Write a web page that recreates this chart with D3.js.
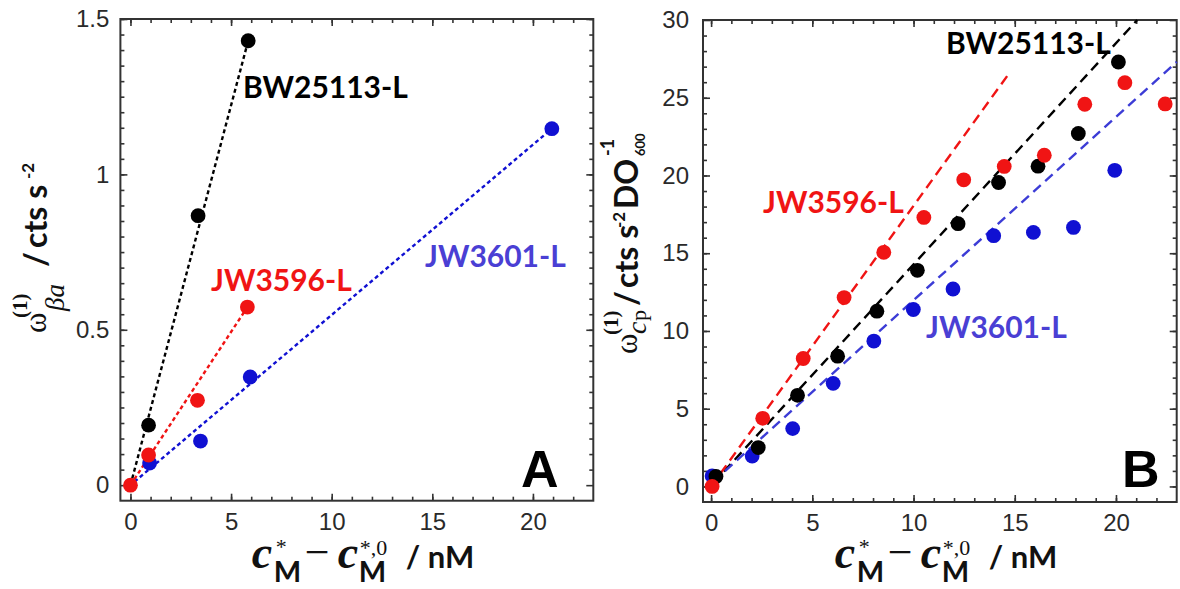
<!DOCTYPE html>
<html><head><meta charset="utf-8">
<script src="https://cdn.jsdelivr.net/npm/d3@7"></script>
<style>body{margin:0;background:#fff}svg{display:block}</style>
</head><body>
<svg id="chart" width="1180" height="589"></svg>
<script>
// ---------- Panel A data ----------
const seriesNames = ["BW25113-L", "JW3596-L", "JW3601-L"];
const aBlackX = [0.90, 3.36, 5.85];
const aBlackY = [0.193, 0.867, 1.43];
const aRedX = [0, 0.90, 3.33, 5.81];
const aRedY = [0, 0.097, 0.273, 0.573];
const aBlueX = [0.95, 3.48, 5.95, 20.94];
const aBlueY = [0.071, 0.142, 0.348, 1.147];
const aBlackFitX = [0, 5.85],  aBlackFitY = [0, 1.43];
const aRedFitX = [0, 5.81],    aRedFitY = [0, 0.573];
const aBlueFitX = [0.2, 20.94], aBlueFitY = [0.011, 1.147];
const aXTicks = [0, 5, 10, 15, 20];
const aYTicks = [0, 0.5, 1, 1.5];
const aYTickLabels = ["0", "0.5", "1", "1.5"];

// ---------- Panel B data ----------
const bBlackX = [0.24, 2.33, 4.27, 6.25, 8.19, 10.19, 12.2, 14.2, 16.15, 18.14, 20.12];
const bBlackY = [0.64, 2.5, 5.86, 8.38, 11.27, 13.9, 16.9, 19.55, 20.6, 22.7, 27.3];
const bRedX = [0.05, 2.55, 4.55, 6.57, 8.53, 10.51, 12.48, 14.48, 16.46, 18.46, 20.44, 22.43];
const bRedY = [0, 4.38, 8.23, 12.15, 15.06, 17.3, 19.72, 20.58, 21.3, 24.58, 25.97, 24.6];
const bBlueX = [0.05, 2.03, 4.03, 6.03, 8.04, 9.99, 11.95, 13.96, 15.92, 17.9, 19.94];
const bBlueY = [0.68, 1.96, 3.72, 6.63, 9.35, 11.38, 12.7, 16.13, 16.34, 16.66, 20.33];
const bBlackFitX = [0.1, 21.05], bBlackFitY = [0.2, 30];
const bRedFitX = [0, 14.66],     bRedFitY = [0, 26.46];
const bBlueFitX = [0.1, 23],     bBlueFitY = [0.3, 27.3];
const bXTicks = [0, 5, 10, 15, 20];
const bYTicks = [0, 5, 10, 15, 20, 25, 30];
const bYTickLabels = ["0", "5", "10", "15", "20", "25", "30"];

const zip = (xs, ys) => xs.map((v, i) => [v, ys[i]]);
const svg = d3.select("#chart");
const C = {black: "#000000", red: "#f01414", blue: "#1010d2", blueLine: "#3c3cd6", blueText: "#4a3fd4"};

function drawPanel(o) {
  const g = svg.append("g");
  const x = d3.scaleLinear().domain(o.xDomain).range(o.xRange);
  const y = d3.scaleLinear().domain(o.yDomain).range(o.yRange);
  const [xl, xr] = o.xRange, [yb, yt] = o.yRange;

  const styleAxis = sel => {
    sel.select(".domain").remove();
    sel.selectAll(".tick line").attr("stroke", "#333").attr("stroke-width", 1.6);
    sel.selectAll("text").attr("font-family", "'Liberation Sans', Arial, sans-serif")
       .attr("font-size", 24).attr("fill", "#2a2a2a");
  };
  const minorSpecs = [
    [d3.axisBottom(x).tickValues(o.xMinor), `translate(0,${yb})`],
    [d3.axisTop(x).tickValues(o.xMinor), `translate(0,${yt})`],
    [d3.axisLeft(y).tickValues(o.yMinor), `translate(${xl},0)`],
    [d3.axisRight(y).tickValues(o.yMinor), `translate(${xr},0)`]
  ];
  minorSpecs.forEach(([ax, tr]) => {
    g.append("g").attr("transform", tr).call(ax.tickFormat("").tickSizeInner(-4).tickSizeOuter(0)).call(styleAxis);
  });
  g.append("g").attr("transform", `translate(0,${yb})`)
    .call(d3.axisBottom(x).tickValues(o.xTicks).tickFormat(d3.format("d")).tickSizeInner(-7).tickSizeOuter(0).tickPadding(12))
    .call(styleAxis);
  g.append("g").attr("transform", `translate(0,${yt})`)
    .call(d3.axisTop(x).tickValues(o.xTicks).tickFormat("").tickSizeInner(-7).tickSizeOuter(0)).call(styleAxis);
  g.append("g").attr("transform", `translate(${xl},0)`)
    .call(d3.axisLeft(y).tickValues(o.yTicks).tickFormat((d, i) => o.yTickLabels[i]).tickSizeInner(-7).tickSizeOuter(0).tickPadding(o.yPad))
    .call(styleAxis);
  g.append("g").attr("transform", `translate(${xr},0)`)
    .call(d3.axisRight(y).tickValues(o.yTicks).tickFormat("").tickSizeInner(-7).tickSizeOuter(0)).call(styleAxis);

  g.append("rect").attr("x", xl).attr("y", yt).attr("width", xr - xl).attr("height", yb - yt)
    .attr("fill", "none").attr("stroke", "#333").attr("stroke-width", 2);

  const line = d3.line().x(d => x(d[0])).y(d => y(d[1]));
  o.fits.forEach(f => {
    g.append("path").datum(zip(f.xs, f.ys)).attr("d", line).attr("fill", "none")
      .attr("stroke", f.color).attr("stroke-width", 2.4).attr("stroke-dasharray", o.dash);
  });
  o.points.forEach(p => {
    g.append("g").selectAll("circle").data(zip(p.xs, p.ys)).join("circle")
      .attr("cx", d => x(d[0])).attr("cy", d => y(d[1])).attr("r", 7.4).attr("fill", p.color);
  });
  o.labels.forEach(l => {
    g.append("text").attr("x", l.x).attr("y", l.y).text(l.text)
      .attr("font-family", "Lato, 'Open Sans', sans-serif").attr("font-weight", "bold")
      .attr("font-size", 30).attr("fill", l.color);
  });
  g.append("text").attr("x", o.letterX).attr("y", 487).text(o.letter)
    .attr("font-family", "'Liberation Sans', Arial, sans-serif").attr("font-weight", "bold")
    .attr("font-size", 52).attr("fill", "#000");

  // x-axis label  c*_M − c*,0_M / nM
  const sx = (xl + xr) / 2 - 105, bl = 568;
  const serif = "'Liberation Serif', 'Times New Roman', serif";
  const lab = g.append("g");
  const t = (txt, dx, dy, fam, size, weight, style) =>
    lab.append("text").attr("x", sx + dx).attr("y", bl + dy).text(txt).attr("font-family", fam)
      .attr("font-size", size).attr("font-weight", weight || "normal").attr("font-style", style || "normal").attr("fill", "#111");
  t("c", 0, 0, serif, 46, "bold", "italic");
  t("*", 24, -14, serif, 22, "normal");
  t("M", 22, 14, "Lato, sans-serif", 29, "bold");
  t("\u2212", 53, -1, serif, 44, "normal");
  t("c", 86, 0, serif, 46, "bold", "italic");
  t("*,0", 108, -13, serif, 22, "normal");
  t("M", 107, 14, "Lato, sans-serif", 29, "bold");
  t("/ nM", 154, 0, "Lato, sans-serif", 31, "bold");

  // y-axis label (rotated)
  const yl = g.append("g").attr("transform", `translate(${o.yLab.x},${o.yLab.y}) rotate(-90)`);
  o.yLab.parts.forEach(p => {
    yl.append("text").attr("x", p[1]).attr("y", p[2]).text(p[0]).attr("font-family", p[3])
      .attr("font-size", p[4]).attr("font-weight", p[5] || "normal").attr("font-style", p[6] || "normal")
      .attr("fill", "#111");
  });
}

const serifF = "'Liberation Serif', 'Times New Roman', serif";
const sansF = "Lato, sans-serif";

drawPanel({
  xDomain: [-0.5, 23], xRange: [120.4, 593.3],
  yDomain: [-0.05, 1.5], yRange: [500.7, 19],
  xTicks: aXTicks, xMinor: d3.range(0, 23, 1),
  yTicks: aYTicks, yTickLabels: aYTickLabels, yMinor: d3.range(0, 30).map(i => i * 0.05 + 0.05),
  yPad: 11, dash: "4,3",
  fits: [
    {xs: aBlackFitX, ys: aBlackFitY, color: C.black},
    {xs: aRedFitX, ys: aRedFitY, color: C.red},
    {xs: aBlueFitX, ys: aBlueFitY, color: C.blue}
  ],
  points: [
    {xs: aBlackX, ys: aBlackY, color: C.black},
    {xs: aBlueX, ys: aBlueY, color: C.blue},
    {xs: aRedX, ys: aRedY, color: C.red}
  ],
  labels: [
    {text: seriesNames[0], x: 243, y: 98, color: "#000"},
    {text: seriesNames[1], x: 211, y: 291, color: C.red},
    {text: seriesNames[2], x: 425, y: 267, color: C.blueText}
  ],
  letter: "A", letterX: 521,
  yLab: {x: 47, y: 334, parts: [
    ["\u03C9", 1, -1, serifF, 31],
    ["(1)", 16, -20, serifF, 21, "bold"],
    ["\u03B2a", 23, 17, serifF, 27, "normal", "italic"],
    ["/", 67, 0, sansF, 32, "bold"],
    ["cts s", 86, 0, sansF, 32, "bold"],
    ["-2", 155, -13, sansF, 17, "bold"]
  ]}
});

drawPanel({
  xDomain: [-0.4, 23], xRange: [703, 1176.7],
  yDomain: [-1, 30], yRange: [502, 20],
  xTicks: bXTicks, xMinor: d3.range(0, 23, 1),
  yTicks: bYTicks, yTickLabels: bYTickLabels, yMinor: d3.range(0, 30, 1),
  yPad: 14, dash: "10,6",
  fits: [
    {xs: bBlackFitX, ys: bBlackFitY, color: C.black},
    {xs: bRedFitX, ys: bRedFitY, color: C.red},
    {xs: bBlueFitX, ys: bBlueFitY, color: C.blueLine}
  ],
  points: [
    {xs: bBlueX, ys: bBlueY, color: C.blue},
    {xs: bBlackX, ys: bBlackY, color: C.black},
    {xs: bRedX, ys: bRedY, color: C.red}
  ],
  labels: [
    {text: seriesNames[0], x: 946, y: 54, color: "#000"},
    {text: seriesNames[1], x: 763, y: 213, color: C.red},
    {text: seriesNames[2], x: 926, y: 338, color: C.blueText}
  ],
  letter: "B", letterX: 1122,
  yLab: {x: 638, y: 355, parts: [
    ["\u03C9", 1, -1, serifF, 31],
    ["(1)", 20, -20, serifF, 21, "bold"],
    ["c", 21, 8, serifF, 28, "normal", "italic"],
    ["p", 34, 8, serifF, 22],
    ["/", 49, 0, sansF, 32, "bold"],
    ["cts s", 67, 0, sansF, 32, "bold"],
    ["-2", 127, -13, sansF, 17, "bold"],
    ["DO", 146, 0, sansF, 32, "bold"],
    ["600", 199, 7, sansF, 13, "bold"],
    ["-1", 199, -24, sansF, 18, "bold"]
  ]}
});
</script>
</body></html>
